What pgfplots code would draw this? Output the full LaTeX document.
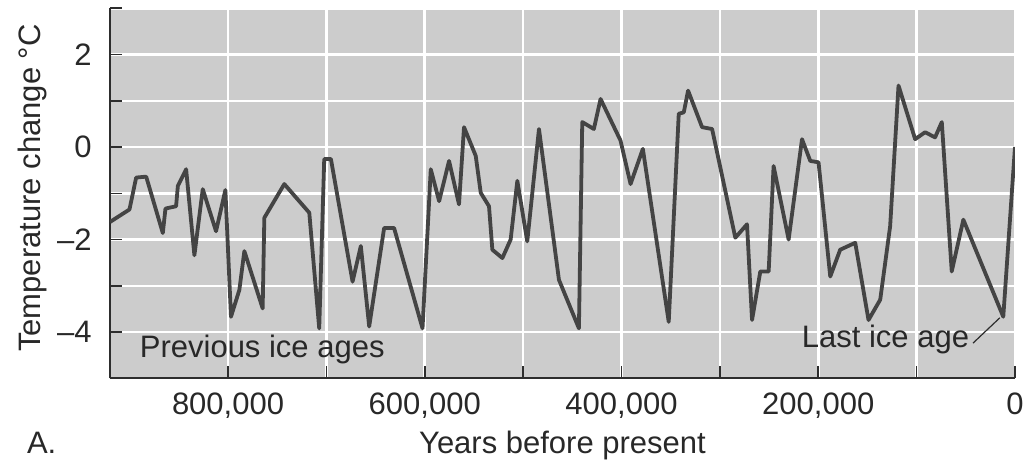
\documentclass[border=0pt]{standalone}
\usepackage{fontspec}
\setmainfont{Liberation Sans}
\usepackage{pgfplots}
\usepackage{pgfplotstable}
\pgfplotsset{compat=1.18}

\definecolor{panel}{RGB}{204,204,204}
\definecolor{curve}{RGB}{68,68,68}
\definecolor{axisdark}{RGB}{45,45,45}
\definecolor{ink}{RGB}{40,40,40}

% Temperature change (deg C) against years before present
\pgfplotstableread{
years   temp
920000  -1.62
900200  -1.35
893400  -0.66
883200  -0.64
866300  -1.86
863600  -1.33
852800  -1.28
851000  -0.84
842600  -0.48
834200  -2.34
825700  -0.91
812200  -1.82
802700  -0.93
797000  -3.67
788500  -3.09
783400  -2.25
764800  -3.49
763100  -1.53
742800  -0.80
717400  -1.42
707300  -3.92
702200  -0.26
695400  -0.26
673400  -2.91
665000  -2.14
656500  -3.88
641300  -1.75
631200  -1.75
602300  -3.92
593900  -0.48
585400  -1.17
575300  -0.30
565200  -1.24
560100   0.43
548200  -0.19
543100  -0.99
534700  -1.28
531300  -2.22
521100  -2.40
512700  -2.00
505900  -0.73
495800  -2.04
483900   0.39
463600  -2.87
443300  -3.92
439900   0.54
428100   0.39
421300   1.04
401000   0.14
390800  -0.80
378300  -0.04
352000  -3.78
341800   0.72
336700   0.75
332300   1.22
318100   0.43
307900   0.39
284300  -1.96
272400  -1.67
267300  -3.74
258900  -2.69
250400  -2.69
245400  -0.41
230100  -2.00
216500   0.17
208100  -0.30
199700  -0.33
187800  -2.80
177700  -2.22
162400  -2.07
148900  -3.74
137000  -3.30
126900  -1.71
118400   1.33
101500   0.17
91400    0.32
81200    0.21
74400    0.54
64300   -2.69
52500   -1.57
11900   -3.67
0        0.00
}\tempdata

\begin{document}
\begin{tikzpicture}[font=\fontsize{15.5}{18}\selectfont, text=ink]
\useasboundingbox (-55pt,-40.85pt) rectangle (463pt,189.15pt);
\begin{axis}[
  at={(0,0)}, anchor=south west,
  width=452.5pt, height=185pt, scale only axis,
  x dir=reverse,
  xmin=0, xmax=920000, ymin=-5, ymax=3,
  scaled x ticks=false,
  axis x line*=bottom, axis y line*=left,
  axis line style={-, line width=1pt, draw=axisdark},
  axis background/.style={fill=panel},
  xtick={0,100000,...,800000},
  xticklabels={0,,{200,000},,{400,000},,{600,000},,{800,000}},
  ytick={-5,...,3},
  yticklabels={,\textendash4,,\textendash2,,0,,2,},
  tick align=inside, major tick length=6pt,
  tick style={draw=axisdark, line width=0.8pt},
  grid=major,
  major grid style={white, line width=1.3pt},
  xticklabel style={inner sep=0pt, yshift=-7pt},
  yticklabel style={inner sep=0pt, xshift=-9pt},
  xlabel={Years before present},
  ylabel={Temperature change \textdegree C},
  xlabel style={at={(axis description cs:0.5,-0.2019)}, anchor=base, inner sep=0pt},
  ylabel style={at={(axis description cs:-0.0773,0.514)}, anchor=base, inner sep=0pt},
]
\addplot[curve, line width=1.9pt, line join=round, mark=none] table[x=years, y=temp] {\tempdata};

\node[anchor=base west, inner sep=0pt] at (axis cs:890000,-4.56) {Previous ice ages};
\node[anchor=base west, inner sep=0pt] at (axis cs:217000,-4.34) {Last ice age};
\draw[axisdark, line width=0.6pt] (axis cs:42700,-4.24) -- (axis cs:15300,-3.69);
\end{axis}
\node[anchor=base west, inner sep=0pt] at (-41.7pt,-37.35pt) {A.};
\end{tikzpicture}
\end{document}
